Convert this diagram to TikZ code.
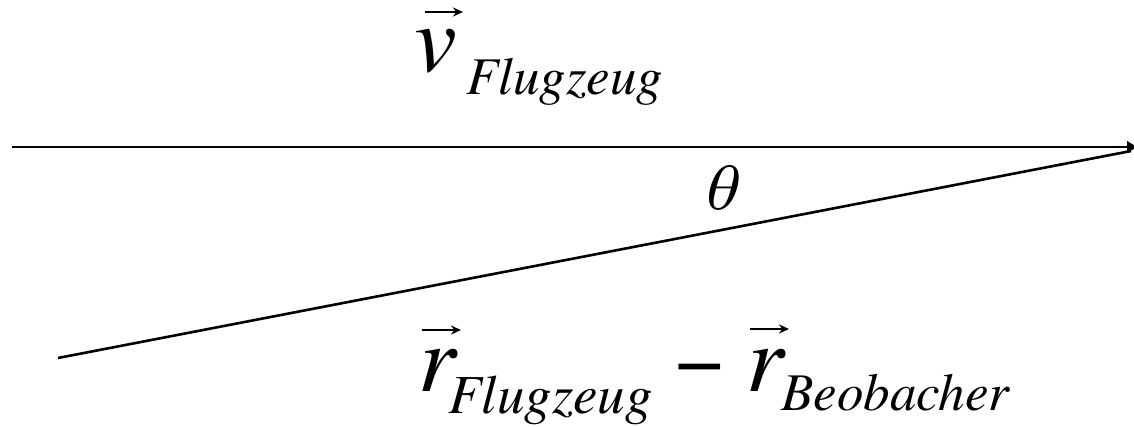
\documentclass[tikz,border=0pt]{standalone}
\usepackage{fontspec}
\setmainfont{texgyretermes}[Extension=.otf, UprightFont=*-regular, ItalicFont=*-italic, BoldFont=*-bold, BoldItalicFont=*-bolditalic]
\usetikzlibrary{arrows.meta,calc}
\tikzset{
  main/.style={anchor=base west, inner sep=0pt, font=\fontsize{96}{96}\selectfont\itshape},
  minusstyle/.style={anchor=base west, inner sep=0pt, font=\fontsize{86}{86}\selectfont},
  subbig/.style={anchor=base west, inner sep=0pt, font=\fontsize{55}{55}\selectfont\itshape},
  subbeo/.style={anchor=base west, inner sep=0pt, font=\fontsize{53}{53}\selectfont\itshape},
  subsmall/.style={anchor=base west, inner sep=0pt, font=\fontsize{53}{53}\selectfont\itshape},
  vecacc/.style={line width=2.4pt, -{Stealth[length=10pt,width=9pt]}},
  vline/.style={line width=2.6pt},
}
\begin{document}
\begin{tikzpicture}[x=1pt,y=-1pt]
\useasboundingbox (0,0) rectangle (1134,427);
% lines
\coordinate (hs) at (12,147);
\coordinate (he) at (1139,147);
\coordinate (ss) at (58,358);
\coordinate (se) at (1131,151);
\draw[vline, -{Latex[length=12pt,width=13pt]}] (hs) -- (he);
\draw[vline] (ss) -- (se);
% top label
\node[main] (v) at (414,72) {v};
\node[subsmall] (vsub) at (466,95) {Flugzeug};
\coordinate (va) at (425,12);
\coordinate (vb) at (463,12);
\draw[vecacc] (va) -- (vb);
% theta
\node[anchor=base west, inner sep=0pt, font=\fontsize{66}{66}\selectfont\itshape] (th) at (702,210) {θ};
% bottom label
\node[main] (r1) at (418,391) {r};
\node[subbig] (r1sub) at (448,413) {Flugzeug};
\coordinate (r1a) at (422,330);
\coordinate (r1b) at (461,330);
\draw[vecacc] (r1a) -- (r1b);
\node[minusstyle] (minus) at (675,388) {−};
\node[main] (r2) at (746,391) {r};
\node[subbeo] (r2sub) at (781,410) {Beobacher};
\coordinate (r2a) at (750,329);
\coordinate (r2b) at (789,329);
\draw[vecacc] (r2a) -- (r2b);
\end{tikzpicture}
\end{document}
